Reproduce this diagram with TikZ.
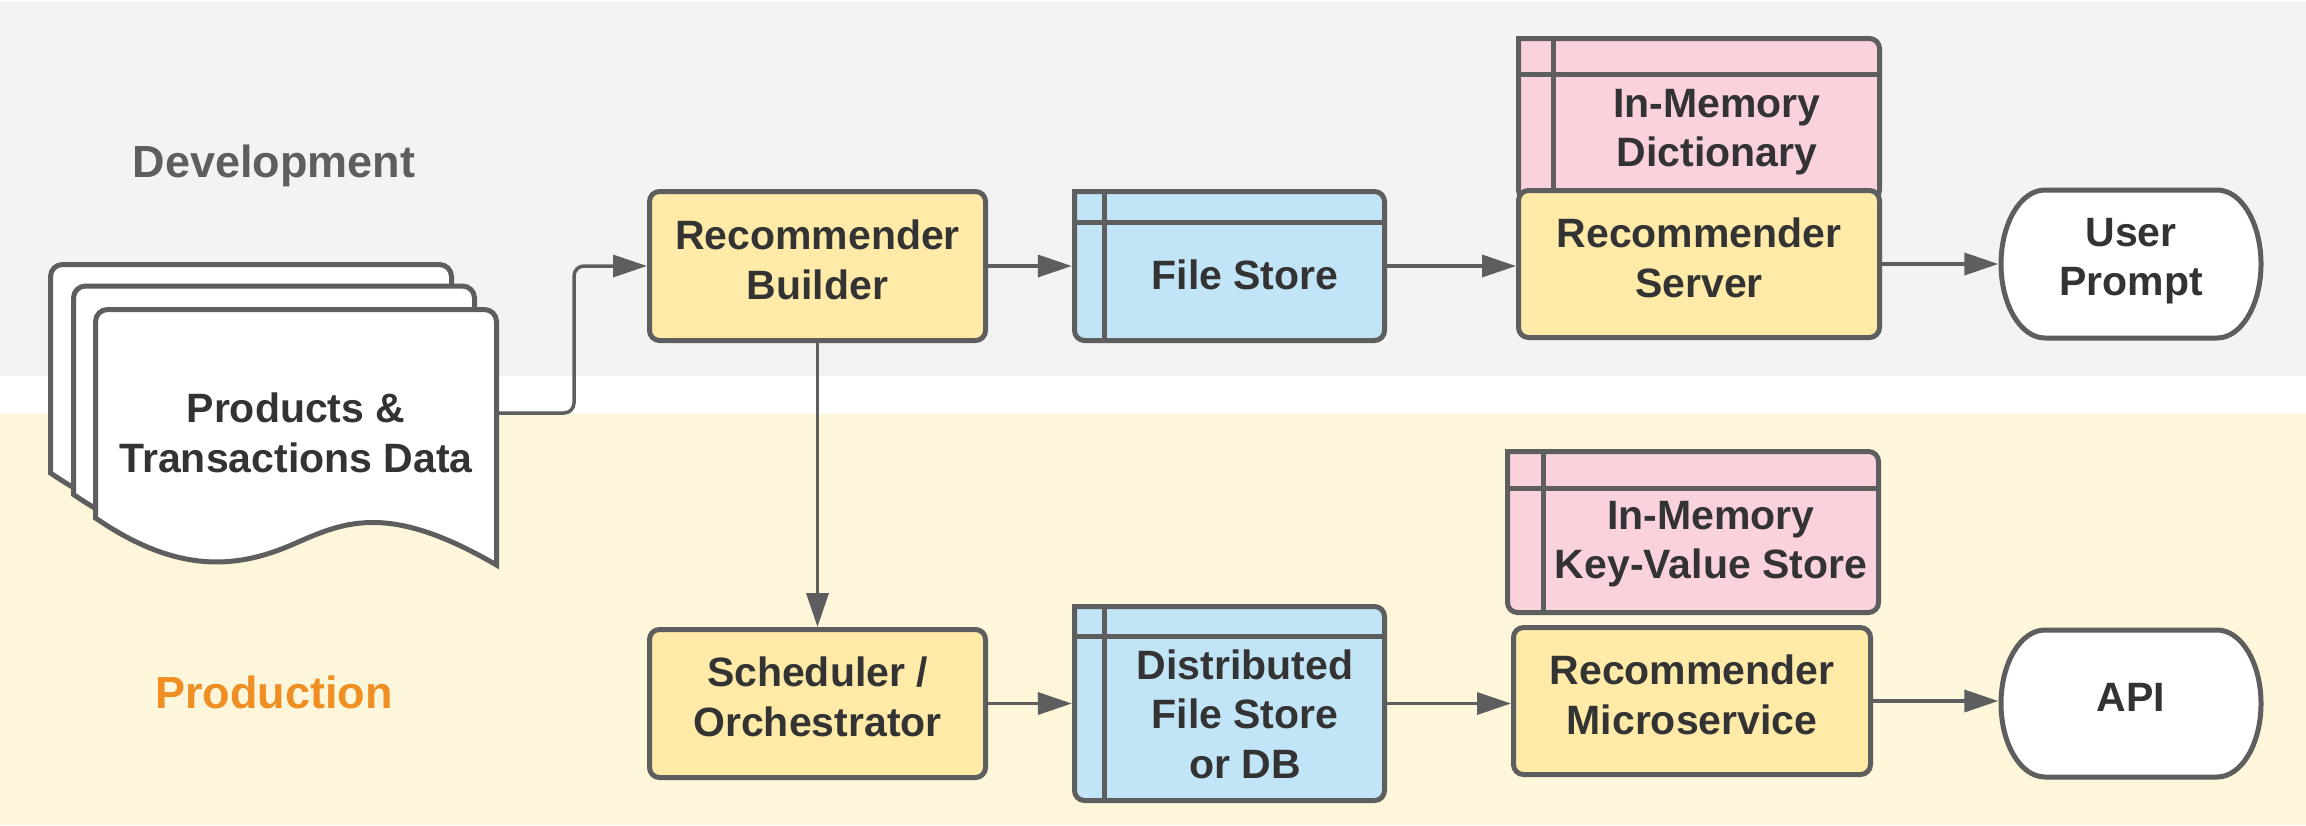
\documentclass[tikz,border=0pt]{standalone}
\usepackage{fontspec}
\setmainfont{Liberation Sans}
\usetikzlibrary{arrows.meta}
\definecolor{bggray}{HTML}{F3F3F3}
\definecolor{bgyel}{HTML}{FEF6DA}
\definecolor{boxyel}{HTML}{FFEBA7}
\definecolor{storeblue}{HTML}{C1E4F7}
\definecolor{storepink}{HTML}{FAD2DC}
\definecolor{edge}{HTML}{5E5E5E}
\definecolor{textc}{HTML}{333333}
\definecolor{prodorange}{HTML}{EF8E23}
\definecolor{devgray}{HTML}{5E5E5E}
\tikzset{
  shapeline/.style={draw=edge, line width=5pt, line join=miter},
  box/.style={shapeline, fill=boxyel, rounded corners=10pt, rectangle, inner sep=0pt},
  geom/.style={rectangle, inner sep=0pt, draw=none},
  txt/.style={font=\fontsize{41}{49.5}\selectfont\bfseries, text=textc, align=center, inner sep=0pt},
  lane/.style={font=\fontsize{45}{54}\selectfont\bfseries, inner sep=0pt, anchor=base},
  conn/.style={draw=edge, line width=3.5pt, -{Triangle[length=34pt,width=22pt]}},
}
% x0 y0 x1 y1 headerY vlineX fill
\newcommand\storeshape[7]{%
  \draw[shapeline, fill=#7] (#1,#2) -- ({#3-10},#2) .. controls ({#3-4.5},#2) and (#3,{#2+4.5}) .. (#3,{#2+10})
    -- (#3,{#4-10}) .. controls (#3,{#4-4.5}) and ({#3-4.5},#4) .. ({#3-10},#4)
    -- ({#1+10},#4) .. controls ({#1+4.5},#4) and (#1,{#4-4.5}) .. (#1,{#4-10}) -- cycle;
  \draw[shapeline] (#1,#5) -- (#3,#5) (#6,#2) -- (#6,#4);
}
\begin{document}
\begin{tikzpicture}[x=1pt,y=-1pt]
\useasboundingbox (0,0) rectangle (2306,825);
\fill[white] (0,0) rectangle (2306,825);
\fill[bggray] (0,1.5) rectangle (2306,376);
\fill[bgyel] (0,414) rectangle (2306,825);

\node[lane, text=devgray] (devlabel) at (274,177) {Development};
\node[lane, text=prodorange] (prodlabel) at (274,708) {Production};

% stacked documents
\foreach \dx/\dy in {-45/-45, -22/-23.5, 0/0} {
  \begin{scope}[shift={(\dx,\dy)}]
    \draw[shapeline, fill=white] (95.5,518) -- (95.5,321.5)
      .. controls (95.5,314.9) and (100.9,309.5) .. (107.5,309.5) -- (484.5,309.5)
      .. controls (491.1,309.5) and (496.5,314.9) .. (496.5,321.5) -- (496.5,565)
      .. controls (390,503) and (346,521) .. (296,543)
      .. controls (240,568) and (180,576) .. (95.5,518) -- cycle;
  \end{scope}
}
\node[txt] (data) at (296,433) {Products \&\\Transactions Data};
\coordinate (dataR) at (496.5,413);

% yellow process boxes (left column)
\node[box, minimum width=336pt, minimum height=149pt] (builder) at (817.5,266) {};
\node[txt] (builderT) at (817.5,260) {Recommender\\Builder};
\node[box, minimum width=336pt, minimum height=148pt] (sched) at (817.5,703.5) {};
\node[txt] (schedT) at (817.5,697) {Scheduler /\\Orchestrator};

% stores
\storeshape{1074.5}{191.5}{1384.5}{340.5}{222}{1104}{storeblue}
\node[geom, minimum width=315pt, minimum height=154pt] (fs) at (1229.5,266) {};
\node[txt] (fsT) at (1245,275) {File Store};

\storeshape{1074.5}{606.5}{1384.5}{800.5}{636}{1104}{storeblue}
\node[geom, minimum width=315pt, minimum height=199pt] (dist) at (1229.5,703.5) {};
\node[txt] (distT) at (1245,714) {Distributed\\File Store\\or DB};

\storeshape{1518.5}{38.5}{1879.5}{200}{74}{1553}{storepink}
\node[txt] (dictT) at (1717,132) {In-Memory\\Dictionary};
\node[box, minimum width=361pt, minimum height=147pt] (server) at (1699,264) {};
\node[txt] (serverT) at (1699,257.75) {Recommender\\Server};

\storeshape{1507.5}{451.5}{1878.5}{612.5}{488}{1543}{storepink}
\node[txt] (kvT) at (1711,544) {In-Memory\\Key-Value Store};
\node[box, minimum width=357pt, minimum height=147pt] (micro) at (1692,701) {};
\node[txt] (microT) at (1692,695) {Recommender\\Microservice};

% terminators
\draw[shapeline, fill=white] (2045,190) -- (2217,190)
  .. controls (2241.3,190) and (2261,223.1) .. (2261,264)
  .. controls (2261,304.9) and (2241.3,338) .. (2217,338) -- (2045,338)
  .. controls (2020.7,338) and (2001,304.9) .. (2001,264)
  .. controls (2001,223.1) and (2020.7,190) .. (2045,190) -- cycle;
\node[geom, minimum width=265pt, minimum height=153pt] (up) at (2131,264) {};
\node[txt] (upT) at (2131,261) {User\\Prompt};

\draw[shapeline, fill=white] (2045,630) -- (2217,630)
  .. controls (2241.3,630) and (2261,662.9) .. (2261,703.5)
  .. controls (2261,744.1) and (2241.3,777) .. (2217,777) -- (2045,777)
  .. controls (2020.7,777) and (2001,744.1) .. (2001,703.5)
  .. controls (2001,662.9) and (2020.7,630) .. (2045,630) -- cycle;
\node[geom, minimum width=265pt, minimum height=152pt] (api) at (2131,703.5) {};
\node[txt] (apiT) at (2131,697) {API};

% connectors
\draw[conn, rounded corners=10pt] (dataR) -- (574,413) -- (574,266) -- (builder.west);
\draw[conn] (builder.east) -- (fs.west);
\draw[conn] (fs.east) -- (fs.east -| server.west);
\draw[conn] (server.east) -- (up.west);
\draw[conn] (builder.south) -- (sched.north);
\draw[conn] (sched.east) -- (dist.west);
\draw[conn] (dist.east) -- (dist.east -| micro.west);
\draw[conn] (micro.east) -- (micro.east -| api.west);
\end{tikzpicture}
\end{document}
